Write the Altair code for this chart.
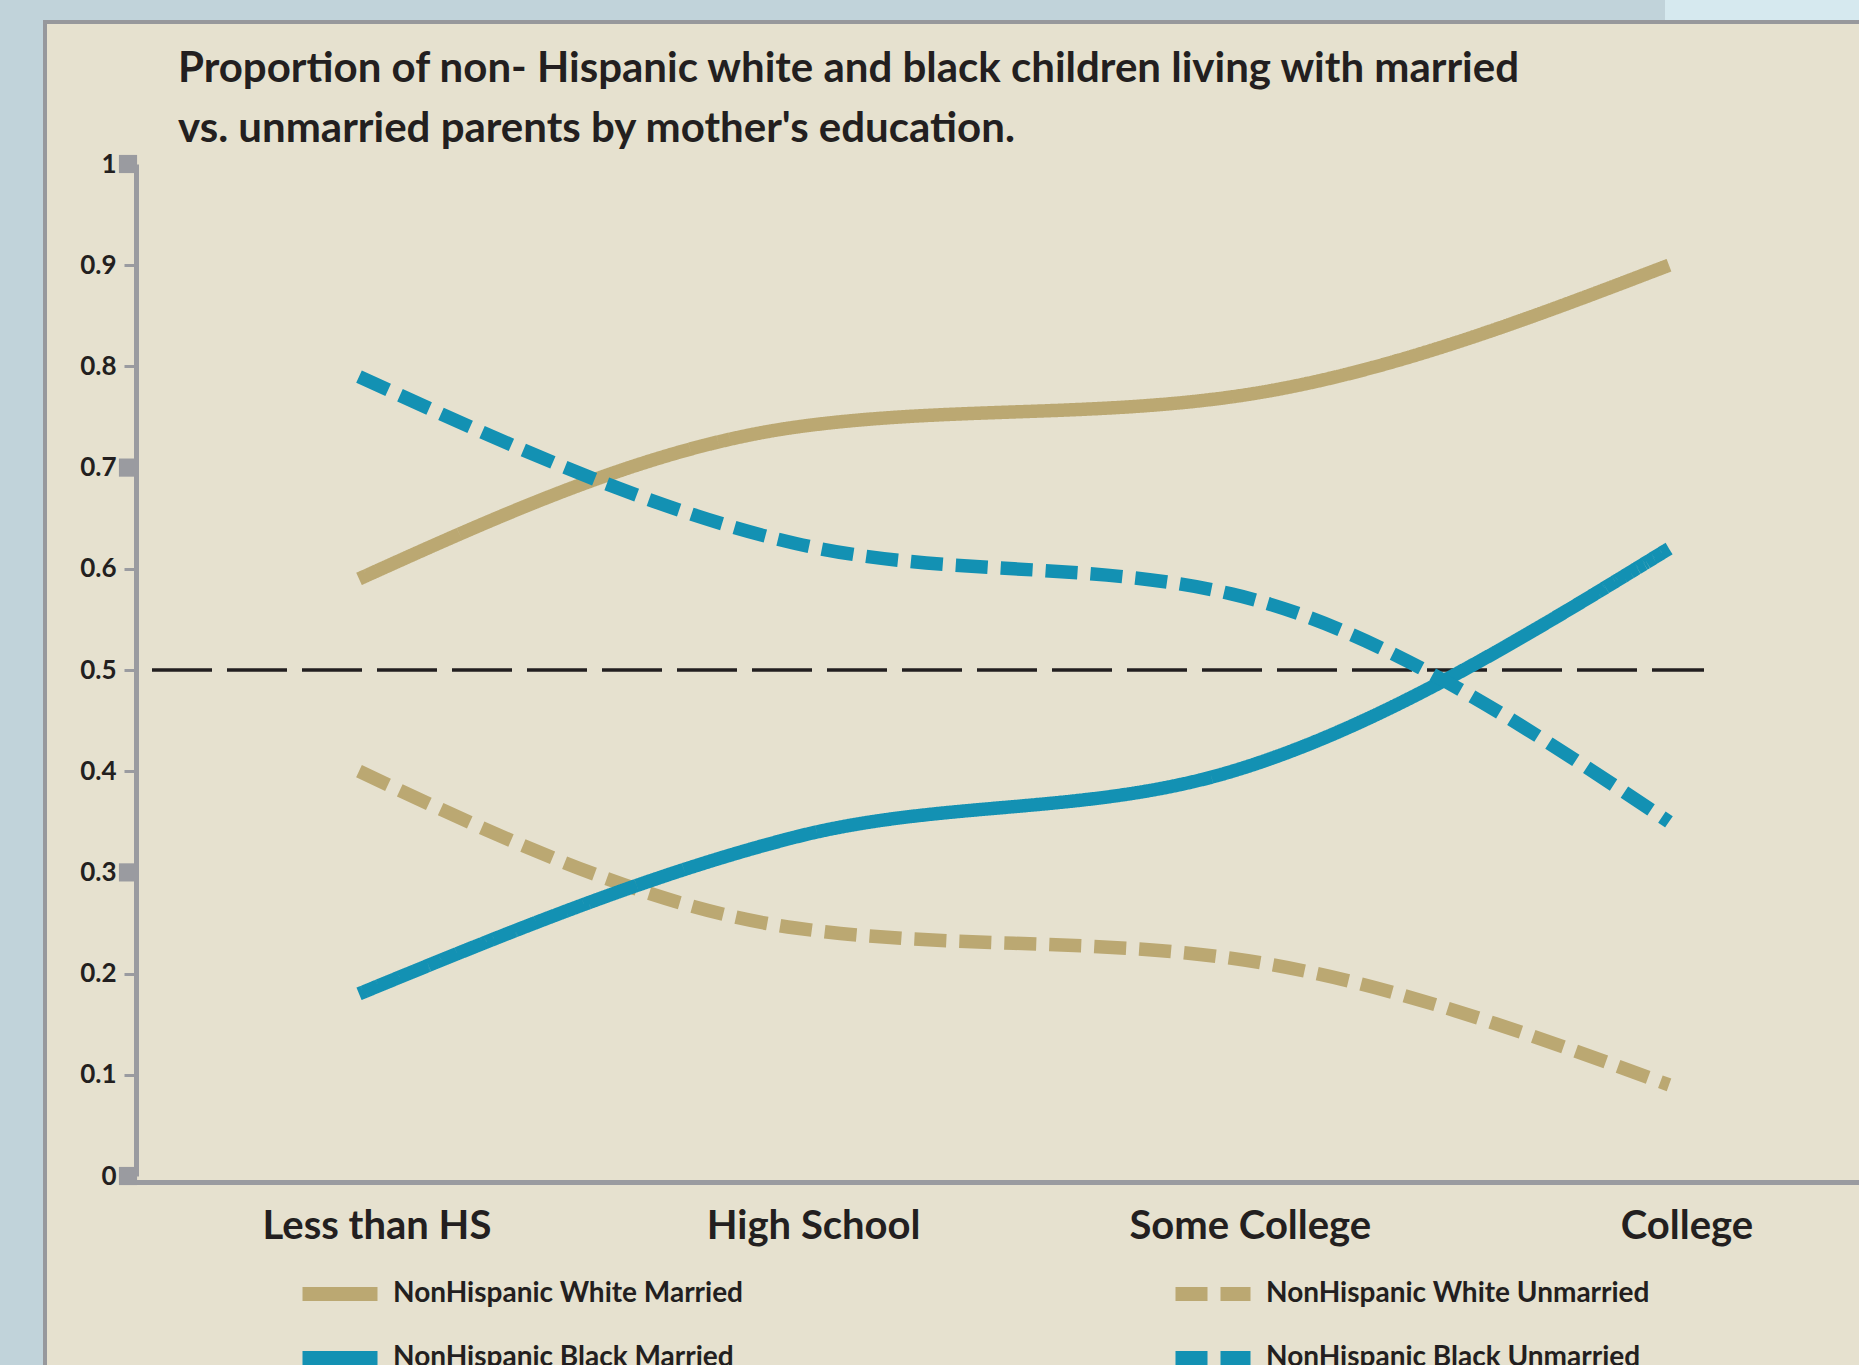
import json
import altair as alt
import pandas as pd

# ---------------- data ----------------
categories = ["Less than HS", "High School", "Some College", "College"]
series = [
    "NonHispanic White Married",
    "NonHispanic White Unmarried",
    "NonHispanic Black Married",
    "NonHispanic Black Unmarried",
]
white_married = [0.59, 0.74, 0.77, 0.90]
white_unmarried = [0.40, 0.245, 0.215, 0.09]
black_married = [0.18, 0.335, 0.40, 0.62]
black_unmarried = [0.79, 0.625, 0.575, 0.35]
y_ticks = [0, 0.1, 0.2, 0.3, 0.4, 0.5, 0.6, 0.7, 0.8, 0.9, 1]
marker_ticks = [1, 0.7, 0.3, 0]
reference_level = [0.5]

title_lines = [
    "Proportion of non- Hispanic white and black children living with married",
    "vs. unmarried parents by mother's education.",
]

# ---------------- styles ----------------
TAN = "#BBA872"
BLUE = "#1391B3"
INK = "#231F20"
GRAY = "#9A9BA0"
PANEL = "#E6E1CF"
series_colors = [TAN, TAN, BLUE, BLUE]
series_dashes = [[1, 0], [32, 13], [1, 0], [32, 13]]
LABEL_SHIFT = 0.04  # category labels sit slightly right of the data points

W, H = 1723, 1012

rows = []
for name, vals in zip(series, [white_married, white_unmarried, black_married, black_unmarried]):
    for i, (cat, v) in enumerate(zip(categories, vals)):
        rows.append({"series": name, "category": cat, "idx": i, "value": v})
df = pd.DataFrame(rows)

label_expr = json.dumps(categories) + "[round(datum.value)]"
NBSP2 = "\u00a0\u00a0"
y_label_expr = f"(datum.value == 0 || datum.value == 1) ? datum.label + '{NBSP2}' : datum.label"

x_enc = alt.X(
    "idx:Q",
    scale=alt.Scale(domain=[-0.5107, 3.4351], nice=False, zero=False),
    axis=alt.Axis(
        values=[i + LABEL_SHIFT for i in range(len(categories))], labelExpr=label_expr,
        title=None, grid=False,
        ticks=False, domainColor=GRAY, domainWidth=5, offset=6,
        labelFont="Lato", labelFontSize=40, labelFontWeight="bold",
        labelColor=INK, labelPadding=24, labelFlush=False, labelLimit=600,
        labelOverlap=False, zindex=1,
    ),
)
y_axis = alt.Axis(
    values=y_ticks, format=".1~f", labelExpr=y_label_expr, title=None, grid=False,
    domainColor=GRAY, domainWidth=5, tickColor=GRAY, tickWidth=3, tickSize=12,
    labelFont="Lato", labelFontSize=26, labelFontWeight="bold", labelColor=INK,
    labelPadding=8, zindex=1,
)
y_scale = alt.Scale(domain=[0, 1], nice=False, zero=True)

legend = alt.Legend(
    orient="none", legendX=187, legendY=1113, columns=2, direction="horizontal",
    columnPadding=403, rowPadding=8, title=None, symbolType="M-3.75,0H3.75",
    symbolSize=400, symbolStrokeWidth=14, labelFont="Lato", labelFontSize=28,
    labelFontWeight="bold", labelColor=INK, labelOffset=36, padding=0,
    labelLimit=600,
)

blank = alt.Data(values=[{}])

top_right = alt.Chart(blank).mark_rect(fill="#D6E9EF").encode(
    x=alt.value(1529), x2=alt.value(W + 5), y=alt.value(-170), y2=alt.value(-143)
)
panel = alt.Chart(blank).mark_rect(fill=PANEL, stroke="#97989C", strokeWidth=4).encode(
    x=alt.value(-91), x2=alt.value(W + 20), y=alt.value(-142), y2=alt.value(H + 250)
)

title_layers = [
    alt.Chart(blank).mark_text(
        text=line, align="left", baseline="alphabetic", font="Lato",
        fontSize=42, fontWeight="bold", color=INK,
    ).encode(x=alt.value(42), y=alt.value(-82 + 60 * i))
    for i, line in enumerate(title_lines)
]

ref = alt.Chart(pd.DataFrame({"value": reference_level})).mark_rule(
    color=INK, strokeWidth=3.5, strokeDash=[60, 15]
).encode(
    y=alt.Y("value:Q", scale=y_scale, axis=y_axis),
    x=alt.value(16), x2=alt.value(1568),
)

lines = alt.Chart(df).mark_line(strokeWidth=13.5, interpolate="monotone", strokeCap="butt").encode(
    x=x_enc,
    y=alt.Y("value:Q", scale=y_scale, axis=y_axis),
    color=alt.Color("series:N", scale=alt.Scale(domain=series, range=series_colors), legend=legend),
    strokeDash=alt.StrokeDash("series:N", scale=alt.Scale(domain=series, range=series_dashes), legend=legend),
    detail="series:N",
)

markers = alt.Chart(pd.DataFrame({"value": marker_ticks})).mark_square(
    color=GRAY, size=330, opacity=1
).encode(
    y=alt.Y("value:Q", scale=y_scale, axis=y_axis),
    x=alt.value(-8),
)

chart = alt.layer(top_right, panel, *title_layers, ref, lines, markers).properties(
    width=W,
    height=H,
    padding={"left": 136, "top": 164, "right": 0, "bottom": 189},
    autosize=alt.AutoSizeParams(type="none"),
    background="#C1D3DA",
).configure_view(stroke=None)

chart.save("out.html", embed_options={"renderer": "svg", "actions": False})
